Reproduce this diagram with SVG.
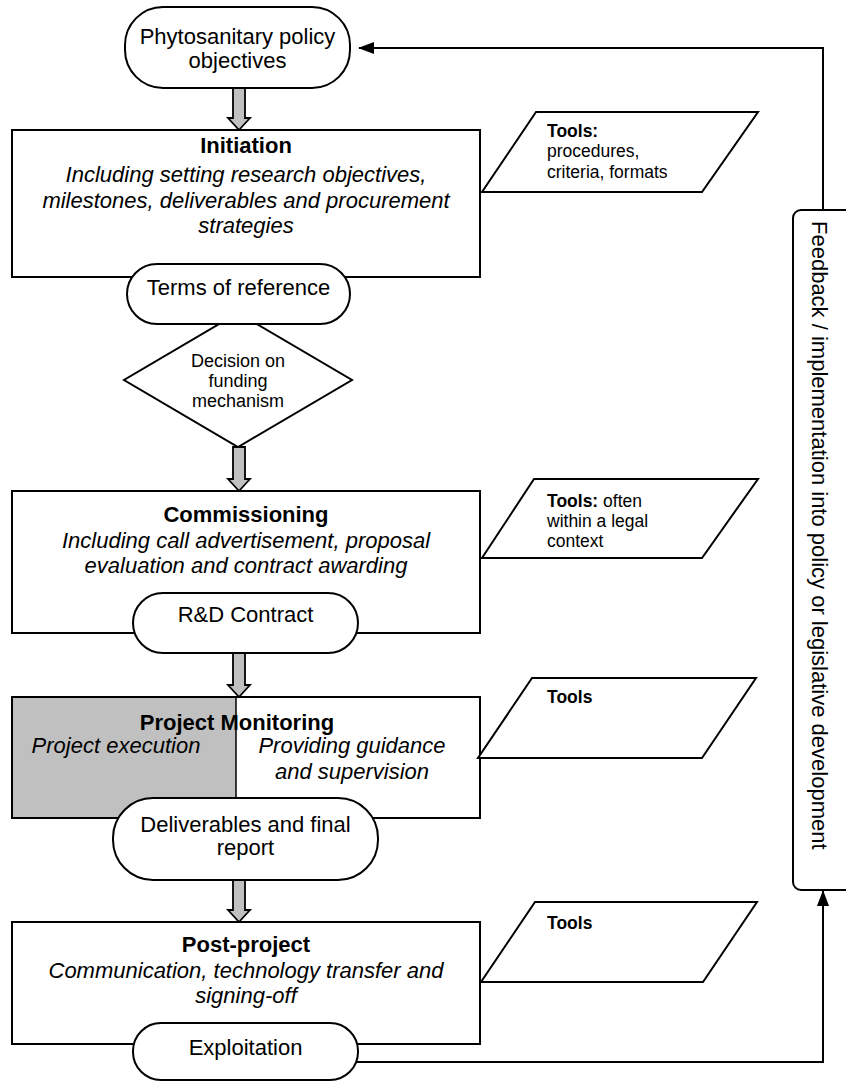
<svg xmlns="http://www.w3.org/2000/svg" width="846" height="1081" viewBox="0 0 846 1081">
<defs>
<style>
.box{fill:#fff;stroke:#000;stroke-width:2}
.term{fill:#fff;stroke:#000;stroke-width:2}
.gray{fill:#c0c0c0;stroke:#000;stroke-width:1.8}
.line{fill:none;stroke:#000;stroke-width:2}
text{font-family:"Liberation Sans",Arial,sans-serif;fill:#000}
.t22{font-size:22px;text-anchor:middle}
.b22{font-size:22px;font-weight:bold;text-anchor:middle}
.i22{font-size:22px;font-style:italic;text-anchor:middle}
.t18{font-size:18px;text-anchor:middle}
.tool{font-size:17.5px}
</style>
<marker id="ah" markerWidth="16" markerHeight="12" refX="15" refY="6" orient="auto" markerUnits="userSpaceOnUse">
<path d="M0,0 L16,6 L0,12 Z" fill="#000"/>
</marker>
</defs>

<g id="initiation">
<rect class="box" x="12" y="130" width="468" height="147"/>
<text class="b22" x="246" y="153">Initiation</text>
<text class="i22" x="246" y="182">Including setting research objectives,</text>
<text class="i22" x="246" y="208">milestones, deliverables and procurement</text>
<text class="i22" x="246" y="233">strategies</text>
</g>

<g id="commissioning">
<rect class="box" x="12" y="491" width="468" height="142"/>
<text class="b22" x="246" y="522">Commissioning</text>
<text class="i22" x="246" y="548">Including call advertisement, proposal</text>
<text class="i22" x="246" y="573">evaluation and contract awarding</text>
</g>

<g id="monitoring">
<rect class="box" x="12" y="697" width="468" height="121"/>
<rect x="13" y="698" width="223" height="119" fill="#c0c0c0"/>
<line x1="236" y1="697" x2="236" y2="818" stroke="#000" stroke-width="1.5"/>
<text class="b22" x="237" y="730">Project Monitoring</text>
<text class="i22" x="116" y="753">Project execution</text>
<text class="i22" x="352" y="753">Providing guidance</text>
<text class="i22" x="352" y="779">and supervision</text>
</g>

<g id="postproject">
<rect class="box" x="12" y="922" width="468" height="122"/>
<text class="b22" x="246" y="952">Post-project</text>
<text class="i22" x="246" y="978">Communication, technology transfer and</text>
<text class="i22" x="246" y="1003">signing-off</text>
</g>

<g id="decision">
<polygon class="box" points="238,313 352,380 238,447 124,380"/>
<text class="t18" x="238" y="367">Decision on</text>
<text class="t18" x="238" y="387">funding</text>
<text class="t18" x="238" y="407">mechanism</text>
</g>

<g id="policy-objectives">
<rect class="term" x="125" y="7" width="225" height="81" rx="38" ry="38"/>
<text class="t22" x="237.5" y="44">Phytosanitary policy</text>
<text class="t22" x="237.5" y="68">objectives</text>
</g>

<g id="terms-of-reference">
<rect class="term" x="127" y="264" width="223" height="60" rx="30" ry="30"/>
<text class="t22" x="238.5" y="295">Terms of reference</text>
</g>

<g id="rd-contract">
<rect class="term" x="133" y="593" width="225" height="60" rx="30" ry="30"/>
<text class="t22" x="245.5" y="622">R&amp;D Contract</text>
</g>

<g id="deliverables">
<rect class="term" x="113" y="798" width="265" height="82" rx="40" ry="40"/>
<text class="t22" x="245.5" y="832">Deliverables and final</text>
<text class="t22" x="245.5" y="855">report</text>
</g>

<g id="exploitation">
<rect class="term" x="133" y="1023" width="225" height="57" rx="28" ry="28"/>
<text class="t22" x="245.5" y="1055">Exploitation</text>
</g>

<g id="tools1">
<polygon class="box" points="536,112 758,112 702,192 482,192"/>
<text class="tool" x="547" y="137" font-weight="bold">Tools:</text>
<text class="tool" x="547" y="157">procedures,</text>
<text class="tool" x="547" y="178">criteria, formats</text>
</g>

<g id="tools2">
<polygon class="box" points="534,479 758,479 702,558 482,558"/>
<text class="tool" x="547" y="507"><tspan font-weight="bold">Tools:</tspan> often</text>
<text class="tool" x="547" y="527">within a legal</text>
<text class="tool" x="547" y="547">context</text>
</g>

<g id="tools3">
<polygon class="box" points="532,678 756,678 702,758 478,758"/>
<text class="tool" x="547" y="703" font-weight="bold">Tools</text>
</g>

<g id="tools4">
<polygon class="box" points="535,902 757,902 703,982 481,982"/>
<text class="tool" x="547" y="929" font-weight="bold">Tools</text>
</g>

<g id="feedback">
<rect class="box" x="793" y="210" width="80" height="680" rx="8" ry="8"/>
<text font-size="22" transform="translate(812,221) rotate(90)">Feedback / implementation into policy or legislative development</text>
</g>

<g id="connectors">
<path class="gray" d="M233,88 V118 H228 L239,130 L250,118 H245 V88 Z"/>
<path class="gray" d="M233,447 V479 H228 L239,491 L250,479 H245 V447 Z"/>
<path class="gray" d="M233,653 V685 H228 L239,697 L250,685 H245 V653 Z"/>
<path class="gray" d="M233,880 V910 H228 L239,922 L250,910 H245 V880 Z"/>
<polyline class="line" points="823,210 823,48 359,48" marker-end="url(#ah)"/>
<polyline class="line" points="356,1062 823,1062 823,891" marker-end="url(#ah)"/>
</g>
</svg>
